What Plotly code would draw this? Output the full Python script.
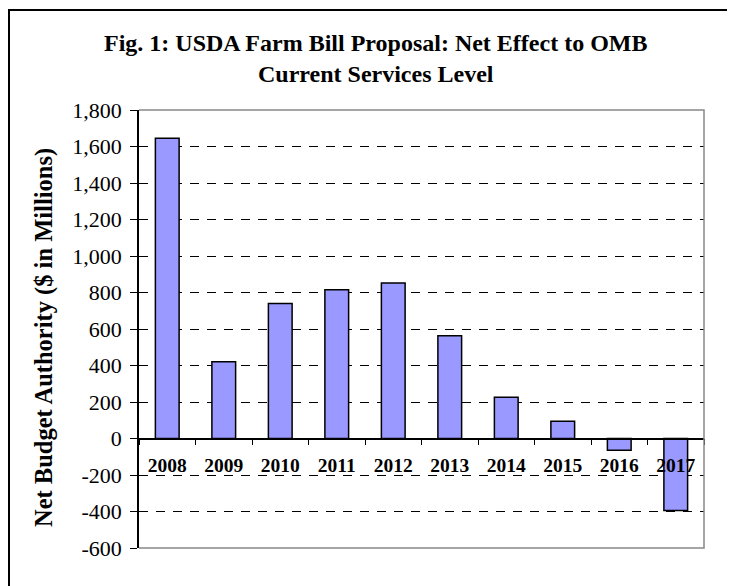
import plotly.graph_objects as go

years = ['2008', '2009', '2010', '2011', '2012', '2013', '2014', '2015', '2016', '2017']
net_budget = [1645, 420, 740, 815, 852, 563, 226, 95, -64, -395]
y_range = [-600, 1800]
y_step = 200
y_ticks = list(range(y_range[0], y_range[1] + y_step, y_step))
y_ticktext = [f"{v:,}" for v in y_ticks]

title_text = "Fig. 1: USDA Farm Bill Proposal: Net Effect to OMB<br>Current Services Level"
y_title = "Net Budget Authority ($ in Millions)"

FONT = "Liberation Serif"
W, H = 727, 578          # page has an 8px body margin
L, R, T, B = 131, 31, 102, 38
pw, ph = W - L - R, H - T - B

fig = go.Figure()
fig.add_trace(go.Bar(
    x=years, y=net_budget,
    marker=dict(color="#9999FF", line=dict(color="black", width=1.5)),
    width=0.42,
))

zero_pos = (0 - y_range[0]) / (y_range[1] - y_range[0])

fig.update_layout(
    width=W, height=H,
    margin=dict(l=L, r=R, t=T, b=B),
    paper_bgcolor="white", plot_bgcolor="white",
    showlegend=False,
    font=dict(family=FONT, color="black"),
    xaxis=dict(type="category", anchor="free", position=zero_pos,
               showline=True, linecolor="black", linewidth=1.5,
               ticks="outside", tickson="boundaries", ticklen=6, tickcolor="black",
               tickfont=dict(family=FONT, size=19.5, color="black", weight="bold"),
               ticklabelstandoff=9, showgrid=False, zeroline=False),
    yaxis=dict(range=y_range, tickvals=y_ticks, ticktext=y_ticktext,
               showline=True, linecolor="black", linewidth=1.5,
               ticks="outside", ticklen=7, tickcolor="black",
               tickfont=dict(family=FONT, size=22, color="black"),
               ticklabelstandoff=4,
               showgrid=True, gridcolor="black", gridwidth=1, griddash="9px,8px",
               zeroline=False),
)

# title
fig.add_annotation(text=title_text, xref="paper", yref="paper",
                   x=(367 - L) / pw, y=1 + (T - 50) / ph,
                   xanchor="center", yanchor="middle", showarrow=False,
                   font=dict(family=FONT, size=24, color="black", weight="bold"))

# y-axis title
fig.add_annotation(text=y_title, xref="paper", yref="paper",
                   x=(36 - L) / pw, y=1 - (330 - T) / ph,
                   xanchor="center", yanchor="middle", textangle=-90, showarrow=False,
                   font=dict(family=FONT, size=24.5, color="black", weight="bold"))

# plot-area border (top, right, bottom) in gray
fig.add_shape(type="path", xref="paper", yref="paper",
              path="M 0 1 L 1 1 L 1 0 L 0 0",
              line=dict(color="#888888", width=1.5), layer="above")

# outer chart frame
fig.add_shape(type="rect", xref="paper", yref="paper",
              x0=(1 - L) / pw, x1=(W + 5 - L) / pw,
              y0=-(B + 5) / ph, y1=1 + (T - 2) / ph,
              line=dict(color="black", width=2), layer="above")

fig.write_html("out.html")
